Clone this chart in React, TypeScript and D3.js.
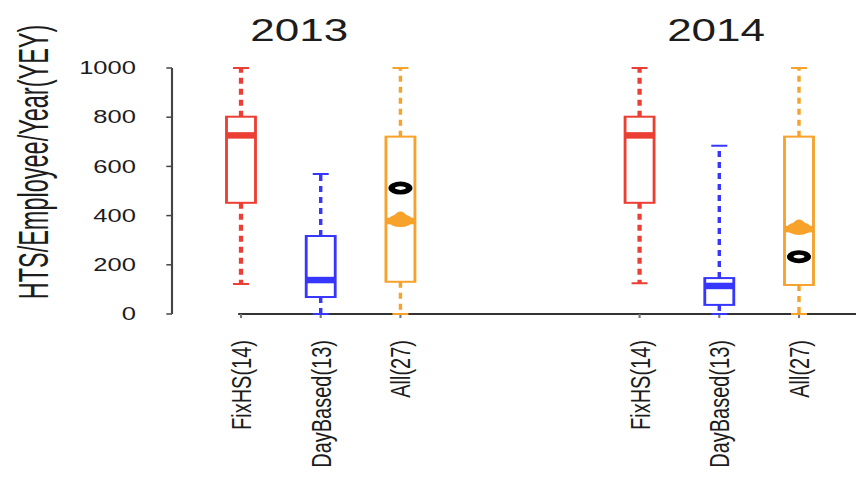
import React from "react";
import * as d3 from "d3";

// Canvas size and the horizontal stretch applied to the whole plot
const W = 856;
const H = 477;
const SX = 1.42;

// Panels (years) and the box groups inside each panel
const years = ["2013", "2014"];
const yearTitleAt = [1.73, 6.96];
const groupNames = ["FixHS(14)", "DayBased(13)", "All(27)"];
const boxPositions = [1, 2, 3, 6, 7, 8];
const boxLabels = [...groupNames, ...groupNames];
const groupColors = ["#eb3f33", "#3636ff", "#f6a22b"];

// Five-number summaries, one entry per box (2013 then 2014)
const whiskerLow = [122, 0, 0, 125, 0, 0];
const lowerQuartile = [452, 69, 131, 452, 37, 118];
const medians = [726, 138, 378, 726, 114, 345];
const upperQuartile = [802, 317, 721, 802, 146, 721];
const whiskerHigh = [1000, 569, 1000, 1000, 684, 1000];

// Extra point markers on the "All" boxes
const markerPositions = [3, 8];
const blackMarkers = [512, 233];
const orangeMarkers = [380, 348];

const yTicks = [0, 200, 400, 600, 800, 1000];
const yTitle = "HTS/Employee/Year(YEY)";

const FONT = "'Liberation Sans', Arial, Helvetica, sans-serif";
const TEXT = "#1c1c1c";

export default function App() {
  const x = d3.scaleLinear().domain([1, 8]).range([241 / SX, 799 / SX]);
  const y = d3.scaleLinear().domain([0, 1000]).range([314, 68]);

  const axisX = 172 / SX;
  const halfBox = 14.5 / SX;
  const halfStaple = 8 / SX;

  return (
    <svg
      width={W}
      height={H}
      style={{ position: "absolute", left: 0, top: 0, background: "#fff" }}
      fontFamily={FONT}
    >
      <rect width={W} height={H} fill="#fff" />
      <g transform={`scale(${SX},1)`}>
        {/* panel titles */}
        {years.map((yr, i) => (
          <text
            key={yr}
            x={x(yearTitleAt[i])}
            y={41}
            fontSize={31}
            textAnchor="middle"
            fill={TEXT}
          >
            {yr}
          </text>
        ))}

        {/* y axis title */}
        <text
          transform={`translate(${33 / SX},162) scale(1.25,1) rotate(-90)`}
          fontSize={23.5}
          textAnchor="middle"
          dy="0.35em"
          fill={TEXT}
        >
          {yTitle}
        </text>

        {/* y axis */}
        <line
          x1={axisX}
          x2={axisX}
          y1={y(0)}
          y2={y(1000)}
          stroke="#444"
          strokeWidth={1.5}
        />
        {yTicks.map((t) => (
          <g key={t}>
            <line
              x1={axisX - 4}
              x2={axisX}
              y1={y(t)}
              y2={y(t)}
              stroke="#444"
              strokeWidth={1.5}
            />
            <text
              x={136 / SX}
              y={y(t)}
              dy="0.35em"
              fontSize={18}
              textAnchor="end"
              fill={TEXT}
            >
              {t}
            </text>
          </g>
        ))}

        {/* x axis */}
        <line
          x1={x(1) - 2}
          x2={W / SX}
          y1={y(0)}
          y2={y(0)}
          stroke="#333"
          strokeWidth={2}
        />
        {boxPositions.map((p) => (
          <line
            key={`tick-${p}`}
            x1={x(p)}
            x2={x(p)}
            y1={y(0)}
            y2={y(0) + 4}
            stroke="#777"
            strokeWidth={1.5}
          />
        ))}

        {/* boxes */}
        {boxPositions.map((p, i) => {
          const c = groupColors[i % 3];
          const cx = x(p);
          const dashW = i % 3 === 0 ? 3 : 2.4;
          return (
            <g key={`box-${i}`}>
              <line
                x1={cx}
                x2={cx}
                y1={y(upperQuartile[i])}
                y2={y(whiskerHigh[i])}
                stroke={c}
                strokeWidth={dashW}
                strokeDasharray="6,5"
              />
              <line
                x1={cx}
                x2={cx}
                y1={y(lowerQuartile[i])}
                y2={y(whiskerLow[i])}
                stroke={c}
                strokeWidth={dashW}
                strokeDasharray="6,5"
              />
              <line
                x1={cx - halfStaple}
                x2={cx + halfStaple}
                y1={y(whiskerHigh[i])}
                y2={y(whiskerHigh[i])}
                stroke={c}
                strokeWidth={2}
              />
              <line
                x1={cx - halfStaple}
                x2={cx + halfStaple}
                y1={y(whiskerLow[i])}
                y2={y(whiskerLow[i])}
                stroke={c}
                strokeWidth={2}
              />
              <rect
                x={cx - halfBox}
                y={y(upperQuartile[i])}
                width={halfBox * 2}
                height={y(lowerQuartile[i]) - y(upperQuartile[i])}
                fill="#fff"
                stroke={c}
                strokeWidth={2}
              />
              <line
                x1={cx - halfBox}
                x2={cx + halfBox}
                y1={y(medians[i])}
                y2={y(medians[i])}
                stroke={c}
                strokeWidth={6.5}
              />
            </g>
          );
        })}

        {/* markers on the combined boxes */}
        {markerPositions.map((p, i) => {
          const cx = x(p);
          const oy = y(orangeMarkers[i]);
          const rx = 8.75 / SX;
          return (
            <g key={`mk-${p}`}>
              <path
                d={`M${cx - 7 / SX},${oy - 4} Q${cx},${oy - 14} ${cx + 7 / SX},${oy - 4} Z`}
                fill={groupColors[2]}
              />
              <ellipse
                cx={cx}
                cy={oy}
                rx={rx}
                ry={4.2}
                fill="none"
                stroke={groupColors[2]}
                strokeWidth={4.6}
              />
              <ellipse
                cx={cx}
                cy={y(blackMarkers[i])}
                rx={rx}
                ry={4.2}
                fill="none"
                stroke="#000"
                strokeWidth={4.6}
              />
            </g>
          );
        })}

        {/* category labels */}
        {boxPositions.map((p, i) => (
          <text
            key={`lbl-${i}`}
            transform={`translate(${x(p)},340) rotate(-90)`}
            dy="0.35em"
            fontSize={20}
            textAnchor="end"
            fill={TEXT}
          >
            {boxLabels[i]}
          </text>
        ))}
      </g>
    </svg>
  );
}
